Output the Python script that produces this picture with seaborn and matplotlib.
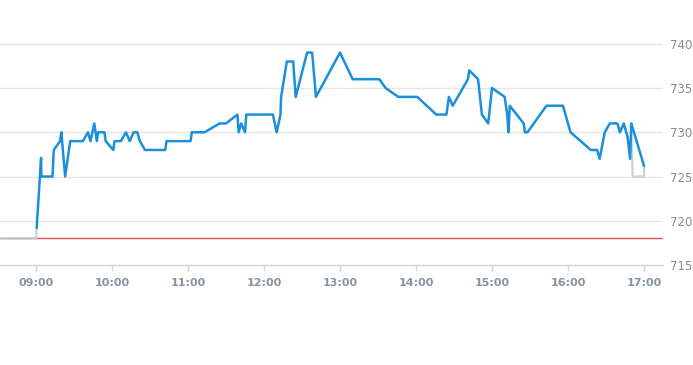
import matplotlib
matplotlib.use("Agg")
import matplotlib.pyplot as plt
import seaborn as sns
import pandas as pd

# ---- data ----
times = ["09:00:30", "09:04", "09:04:10", "09:13", "09:14", "09:19", "09:20", "09:23", "09:27", "09:37",
         "09:41", "09:43", "09:46", "09:48", "09:49", "09:54", "09:55", "10:01", "10:02", "10:07",
         "10:11", "10:14", "10:17", "10:20", "10:22", "10:26", "10:42", "10:43", "11:02", "11:03",
         "11:13", "11:25", "11:30", "11:39", "11:40", "11:42", "11:45", "11:46", "12:07", "12:10",
         "12:13", "12:13:30", "12:18", "12:23", "12:25", "12:34", "12:38", "12:41", "13:00", "13:10",
         "13:31", "13:36", "13:46", "14:01", "14:16", "14:24", "14:26", "14:29", "14:41", "14:42",
         "14:49", "14:52", "14:57", "15:00", "15:10", "15:12", "15:13", "15:14", "15:25", "15:26",
         "15:28", "15:43", "15:56", "16:02", "16:10", "16:18", "16:23", "16:25", "16:29", "16:33",
         "16:39", "16:41", "16:44", "16:47", "16:49", "16:50", "17:00"]
prices = [719.2, 727.1, 725.0, 725.0, 728.0, 729.0, 730.0, 725.0, 729.0, 729.0,
          730.0, 729.0, 731.0, 729.0, 730.0, 730.0, 729.0, 728.0, 729.0, 729.0,
          730.0, 729.0, 730.0, 730.0, 729.0, 728.0, 728.0, 729.0, 729.0, 730.0,
          730.0, 731.0, 731.0, 732.0, 730.0, 731.0, 730.0, 732.0, 732.0, 730.0,
          732.0, 734.0, 738.0, 738.0, 734.0, 739.0, 739.0, 734.0, 739.0, 736.0,
          736.0, 735.0, 734.0, 734.0, 732.0, 732.0, 734.0, 733.0, 736.0, 737.0,
          736.0, 732.0, 731.0, 735.0, 734.0, 732.0, 730.0, 733.0, 731.0, 730.0,
          730.0, 733.0, 733.0, 730.0, 729.0, 728.0, 728.0, 727.0, 730.0, 731.0,
          731.0, 730.0, 731.0, 729.5, 727.0, 731.0, 726.2]

ref_times = ["08:31", "09:00", "09:00:30", None, "16:50", "16:51", "17:00", "17:00:10"]
ref_prices = [718.0, 718.0, 719.2, None, 731.0, 725.0, 725.0, 726.2]

prev_close = 718.0
y_ticks = [715, 720, 725, 730, 735, 740]
x_tick_labels = ["09:00", "10:00", "11:00", "12:00", "13:00", "14:00", "15:00", "16:00", "17:00"]


def to_hours(t):
    if t is None:
        return float("nan")
    parts = [float(p) for p in t.split(":")]
    while len(parts) < 3:
        parts.append(0.0)
    return parts[0] + parts[1] / 60 + parts[2] / 3600


main = pd.DataFrame({"t": [to_hours(t) for t in times], "price": prices})
ref = pd.DataFrame({"t": [to_hours(t) for t in ref_times],
                    "price": [float("nan") if p is None else p for p in ref_prices]})

sns.set_theme(style="white")
plt.rcParams["font.family"] = ["DejaVu Sans"]

fig = plt.figure(figsize=(6.93, 3.65), dpi=100)
ax = fig.add_axes([0.0, 1 - 265 / 365, 663 / 693, 265 / 365])

ax.set_xlim(8.526, 17.25)
ax.set_ylim(715, 744.95)

for y in y_ticks[1:]:
    ax.axhline(y, color="#e6e6e6", lw=1.0, zorder=0)

ax.axhline(prev_close, color="#d9534f", lw=1.0, zorder=2)
ax.plot(ref["t"], ref["price"], color="#c3cbd3", lw=1.6, alpha=0.85, zorder=3)
sns.lineplot(data=main, x="t", y="price", ax=ax, color="#1a90dc", lw=1.8,
             estimator=None, sort=False, zorder=4)

for s in ["top", "left", "right"]:
    ax.spines[s].set_visible(False)
ax.spines["bottom"].set_color("#ccd6eb")
ax.spines["bottom"].set_linewidth(1.0)

ax.set_xticks([to_hours(t) for t in x_tick_labels])
ax.set_xticklabels(x_tick_labels, color="#8593a6", fontsize=8, fontweight="bold")
ax.tick_params(axis="x", which="major", length=4, width=1, color="#ccd6eb", pad=5, bottom=True)

ax.yaxis.tick_right()
ax.set_yticks(y_ticks)
ax.set_yticklabels([str(v) for v in y_ticks], color="#8a8a8a", fontsize=8.5)
ax.tick_params(axis="y", length=0, pad=5)

ax.set_xlabel("")
ax.set_ylabel("")
ax.grid(False)

fig.savefig("out.png", dpi=100)
